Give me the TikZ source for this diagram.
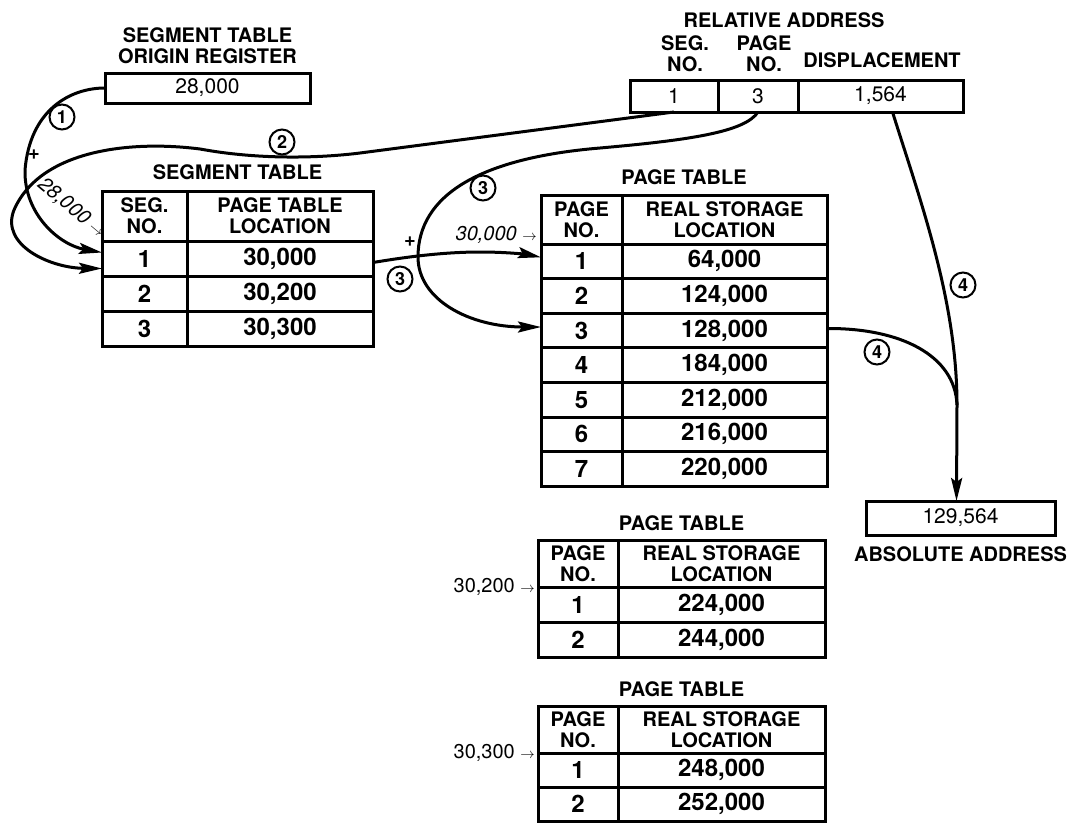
\documentclass[tikz,border=0pt]{standalone}
\usepackage{fontspec}
\setmainfont{TeX Gyre Heros}
\usetikzlibrary{positioning,arrows.meta,calc}
\tikzset{
  cell/.style     = {draw, line width=3pt, outer sep=0pt, inner sep=0pt, align=center, anchor=north west},
  headcell/.style = {cell, font=\fontsize{20}{21}\selectfont\bfseries},
  valcell/.style  = {cell, font=\fontsize{24}{24}\selectfont\bfseries},
  regcell/.style  = {cell, minimum height=32, font=\fontsize{21}{21}\selectfont},
  caption/.style  = {font=\fontsize{20}{21}\selectfont\bfseries, inner sep=0pt, align=center},
  stepnum/.style  = {draw, circle, line width=2pt, minimum size=25, inner sep=0pt,
                     font=\fontsize{18}{18}\selectfont\bfseries},
  addrnote/.style = {font=\fontsize{20}{20}\selectfont, inner sep=1pt},
  plusmark/.style = {font=\fontsize{20}{20}\selectfont\bfseries, inner sep=0pt},
  flowline/.style = {line width=3pt},
  flow/.style     = {flowline, -{Stealth[length=23pt,width=11pt,inset=4pt]}}
}
\begin{document}
\begin{tikzpicture}[x=1pt, y=-1pt]
        \useasboundingbox (0,0) rectangle (1081,823);

        \node[regcell, minimum width=205, minimum height=30] (reg) at (105,73) {28,000};
        \node[caption, anchor=south] (regtitle) at ([yshift=9pt]reg.north) {SEGMENT TABLE\\ORIGIN REGISTER};

        \node[regcell, minimum width=88] (ra1) at (630,80) {1};
        \node[regcell, minimum width=80] (ra2) at (ra1.north east) {3};
        \node[regcell, minimum width=165] (ra3) at (ra2.north east) {1,564};
        \node[caption, anchor=base] (reltitle) at (784,27) {RELATIVE ADDRESS};
        \node[caption, anchor=south] (segno) at ([xshift=11pt,yshift=8pt]ra1.north) {SEG.\\NO.};
        \node[caption, anchor=south] (pageno) at ([xshift=6pt,yshift=8pt]ra2.north) {PAGE\\NO.};
        \node[caption, anchor=base] (displ) at (882,67) {DISPLACEMENT};

        \node[headcell, minimum width=85, minimum height=50] (sh1) at (102,191) {SEG.\\NO.};
        \node[headcell, minimum width=186, minimum height=50] (sh2) at (sh1.north east) {PAGE TABLE\\LOCATION};
        \foreach \nr/\val [count=\i] in {1/{30,000},2/{30,200},3/{30,300}} {
            \node[valcell, minimum width=85, minimum height=35] (s\i-a) at (102,{241+35*(\i-1)}) {\nr};
            \node[valcell, minimum width=186, minimum height=35] (s\i-b) at (s\i-a.north east) {\val};
        }
        \node[caption, anchor=south] (segtitle) at ($(sh1.north west)!.5!(sh2.north east)+(0,-11)$) {SEGMENT TABLE};

        \node[headcell, minimum width=81, minimum height=49] (ph1) at (541,195) {PAGE\\NO.};
        \node[headcell, minimum width=205, minimum height=49] (ph2) at (ph1.north east) {REAL STORAGE\\LOCATION};
        \foreach \nr/\val [count=\i] in {1/{64,000},2/{124,000},3/{128,000},4/{184,000},5/{212,000},6/{216,000},7/{220,000}} {
            \node[valcell, minimum width=81, minimum height=34.6] (p\i-a) at (541,{244+34.6*(\i-1)}) {\nr};
            \node[valcell, minimum width=205, minimum height=34.6] (p\i-b) at (p\i-a.north east) {\val};
        }
        \node[caption, anchor=south] (ptitle) at ($(ph1.north west)!.5!(ph2.north east)+(0,-10)$) {PAGE TABLE};

        \node[headcell, minimum width=80, minimum height=47] (qh1) at (538,540) {PAGE\\NO.};
        \node[headcell, minimum width=207, minimum height=47] (qh2) at (qh1.north east) {REAL STORAGE\\LOCATION};
        \foreach \nr/\val [count=\i] in {1/{224,000},2/{244,000}} {
            \node[valcell, minimum width=80, minimum height=35] (q\i-a) at (538,{587+35*(\i-1)}) {\nr};
            \node[valcell, minimum width=207, minimum height=35] (q\i-b) at (q\i-a.north east) {\val};
        }
        \node[caption, anchor=south] (qtitle) at ($(qh1.north west)!.5!(qh2.north east)+(0,-9)$) {PAGE TABLE};

        \node[headcell, minimum width=80, minimum height=47] (rh1) at (538,706) {PAGE\\NO.};
        \node[headcell, minimum width=207, minimum height=47] (rh2) at (rh1.north east) {REAL STORAGE\\LOCATION};
        \foreach \nr/\val [count=\i] in {1/{248,000},2/{252,000}} {
            \node[valcell, minimum width=80, minimum height=34] (r\i-a) at (538,{753+34*(\i-1)}) {\nr};
            \node[valcell, minimum width=207, minimum height=34] (r\i-b) at (r\i-a.north east) {\val};
        }
        \node[caption, anchor=south] (rtitle) at ($(rh1.north west)!.5!(rh2.north east)+(0,-9)$) {PAGE TABLE};

        \node[regcell, minimum width=189, minimum height=34] (abs) at (866,501) {129,564};
        \node[caption, below=11pt of abs] (abstitle) {ABSOLUTE ADDRESS};

        \node[addrnote, font=\fontsize{20}{20}\selectfont\itshape, rotate=-40, anchor=base east] (n28) at ([xshift=-2pt,yshift=2pt]sh1.south west) {28,000 $\scriptstyle\rightarrow$};
        \node[addrnote, font=\fontsize{20}{20}\selectfont\itshape, anchor=base east] (n30) at ([xshift=-3pt,yshift=4pt]ph1.south west) {30,000 $\scriptstyle\rightarrow$};
        \node[addrnote, anchor=east] (n302) at ([xshift=-2pt]qh1.south west) {30,200 $\scriptstyle\rightarrow$};
        \node[addrnote, anchor=east] (n303) at ([xshift=-2pt]rh1.south west) {30,300 $\scriptstyle\rightarrow$};

        \node[stepnum] (c1) at (62,117) {1};
        \node[stepnum] (c2) at (282,142) {2};
        \node[stepnum] (c3a) at (483,188) {3};
        \node[stepnum] (c3b) at (400,279) {3};
        \node[stepnum] (c4a) at (963,285) {4};
        \node[stepnum] (c4b) at (877,352) {4};
        \node[plusmark] (pl1) at (34,155) {+};
        \node[plusmark] (pl2) at (410,242) {+};

        \coordinate (merge) at (957,405);

        \draw[flow] (reg.west) .. controls (70,88) and (30,110) .. (25,170)
            .. controls (24,215) and (60,245) .. ([yshift=6pt]s1-a.west);
        \draw[flow] (ra1.south) -- (360,153) .. controls (320,158) and (260,160) .. (200,149)
            .. controls (130,140) and (40,150) .. (14,210)
            .. controls (0,245) and (50,268) .. ([yshift=-10pt]s1-a.west);
        \draw[flow] (ra2.south) .. controls (745,132) and (690,140) .. (600,148)
            .. controls (480,158) and (418,195) .. (418,257)
            .. controls (418,300) and (470,327) .. ([yshift=3.5pt]p3-a.west);
        \draw[flow] ([yshift=-4pt]s1-b.east) .. controls (400,258) and (440,252) .. (480,252)
            .. controls (510,252) and (530,255) .. ([yshift=4pt]p1-a.west);
        \draw[flow] ([xshift=12pt]ra3.south) .. controls (920,200) and (957,300) .. (merge)
            -- ([xshift=-4pt]abs.north);
        \draw[flowline] ([yshift=2pt]p3-b.east) .. controls (900,328) and (955,355) .. (merge);
    \end{tikzpicture}
\end{document}
